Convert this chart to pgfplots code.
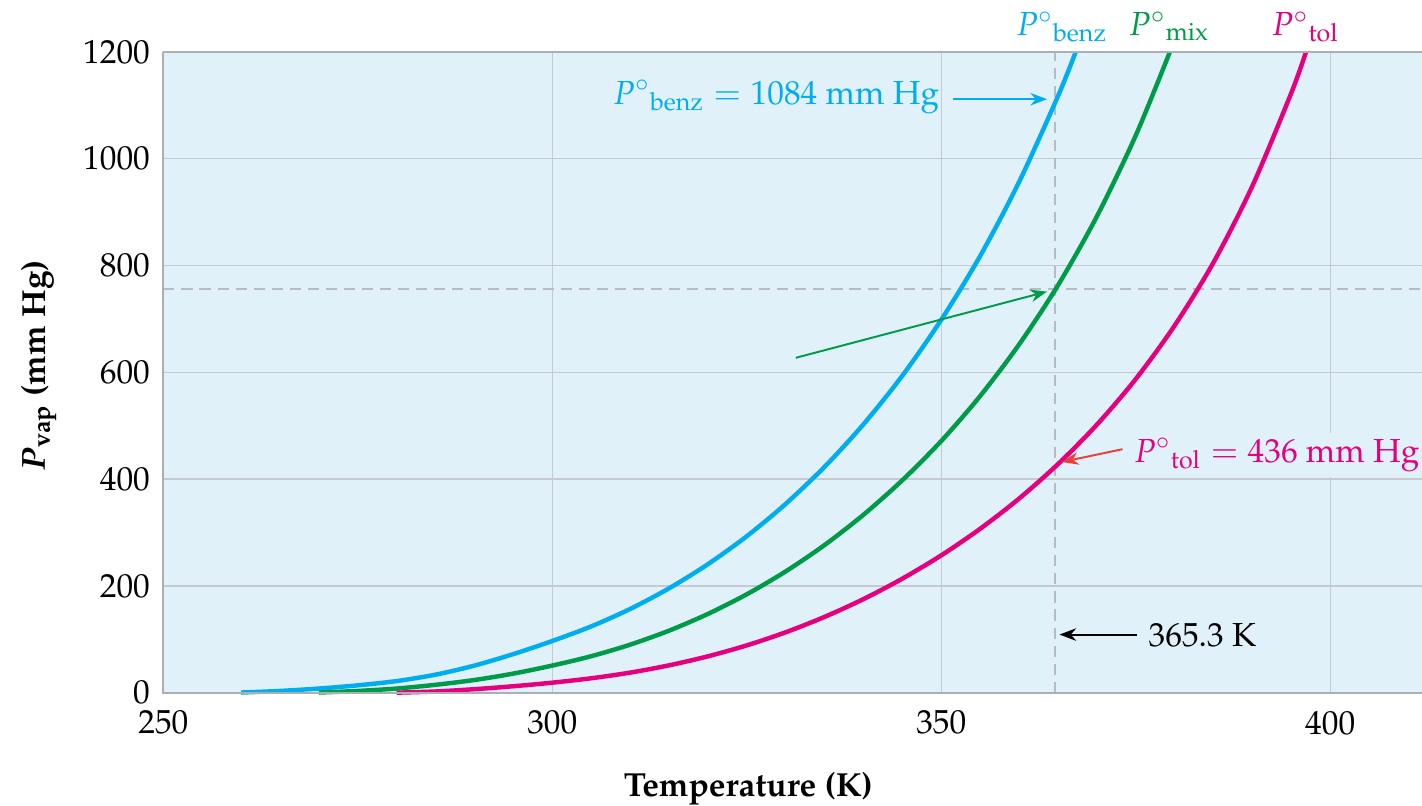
\documentclass[border=0pt]{standalone}
\usepackage[T1]{fontenc}
\usepackage{mathpazo}
\usepackage{pgfplots}
\pgfplotsset{compat=1.18}
\usetikzlibrary{arrows.meta}

\definecolor{bg}{RGB}{225,241,250}
\definecolor{gridc}{RGB}{196,202,208}
\definecolor{dashc}{RGB}{182,188,194}
\definecolor{axc}{RGB}{170,175,180}
\definecolor{benz}{RGB}{0,174,239}
\definecolor{mix}{RGB}{0,155,72}
\definecolor{tol}{RGB}{230,0,126}
\definecolor{arrred}{RGB}{232,65,60}

\begin{document}
\begin{tikzpicture}[font=\fontsize{12}{14.4}\selectfont]
\begin{axis}[
    name=ax,
    scale only axis,
    width=453.1pt, height=230.8pt,
    xmin=250, xmax=411.8, ymin=0, ymax=1200,
    xtick={250,300,350,400},
    ytick={0,200,400,600,800,1000,1200},
    scaled ticks=false,
    /pgf/number format/1000 sep={},
    axis background/.style={fill=bg},
    axis line style={draw=none},
    major tick length=0pt,
    grid=major,
    grid style={gridc, line width=0.5pt},
    xticklabel style={yshift=-3pt},
    yticklabel style={xshift=-1.3pt},
    clip=false,
]
% dashed guide lines
\draw[dashc, line width=0.75pt, dash pattern=on 4pt off 2.5pt]
    (axis cs:364.6,0) -- (axis cs:364.6,1200);
\draw[dashc, line width=0.75pt, dash pattern=on 4pt off 2.5pt]
    (axis cs:250,755) -- (axis cs:411.8,755);

% benzene
\addplot[benz, line width=1.6pt, smooth] coordinates {
    (260,0.5) (265,3.5) (270,8) (275,14) (280,22) (285,34) (290,51) (295,72.5)
    (300,97) (305,124.3) (310,156.9) (315,195.5) (320,240.7) (325,293.1)
    (330,353.6) (335,423) (340,502.6) (345,593.6) (350,698.2) (355,817.6)
    (360,956) (365,1116.6) (367.3,1200)
};
% mixture
\addplot[mix, line width=1.6pt, smooth] coordinates {
    (270,0.5) (275,3.5) (280,8) (285,15) (290,24) (295,36) (300,51)
    (305,68.5) (310,90.1) (315,116.3) (320,147.6) (325,184.4) (330,227.2)
    (335,276.6) (340,333.3) (345,397.9) (350,471.3) (355,555.5) (360,651.9)
    (365,762.6) (370,891.6) (375,1043.1) (379.4,1200)
};
% toluene
\addplot[tol, line width=1.6pt, smooth] coordinates {
    (280,0.3) (285,2.5) (290,6.8) (295,12.3) (300,19) (305,27.2) (310,37.8)
    (315,51.4) (320,68.3) (325,88.8) (330,113.3) (335,142.1) (340,175.4)
    (345,213.7) (350,257.3) (355,307) (360,363.5) (365,428) (370,501.8)
    (375,587.3) (380,687.4) (385,805.6) (390,948.8) (395,1122.9) (396.9,1200)
};

% axis lines
\draw[axc, line width=0.8pt] (rel axis cs:0,1) -- (rel axis cs:0,0) -- (rel axis cs:1,0);
\draw[axc, line width=0.8pt] (rel axis cs:0,1) -- (rel axis cs:1,1);

% curve names above the plot
\node[benz, anchor=base] at (axis cs:365.5,1231) {$P^{\circ}{}_{\mathrm{benz}}$};
\node[mix, anchor=base] at (axis cs:379.3,1231) {$P^{\circ}{}_{\mathrm{mix}}$};
\node[tol, anchor=base] at (axis cs:396.8,1231) {$P^{\circ}{}_{\mathrm{tol}}$};

% annotations
\node[benz, anchor=base east, inner sep=0pt] at (axis cs:349.8,1102)
    {$P^{\circ}{}_{\mathrm{benz}} = \mathrm{1084\ mm\ Hg}$};
\draw[benz, line width=0.7pt, -{Stealth[length=6pt,width=4.5pt]}]
    (axis cs:351.5,1111) -- (axis cs:363.6,1111);

\draw[mix, line width=0.7pt, -{Stealth[length=6pt,width=4.5pt]}]
    (axis cs:331.3,627) -- (axis cs:363.6,751);

\node[tol, anchor=base west, fill=bg, inner sep=2pt] at ([xshift=-2pt]axis cs:374.7,432)
    {$P^{\circ}{}_{\mathrm{tol}} = \mathrm{436\ mm\ Hg}$};
\draw[arrred, line width=0.7pt, -{Stealth[length=6pt,width=4.5pt]}]
    (axis cs:373.3,456) -- (axis cs:365.5,432);

\node[anchor=base west, inner sep=0pt] at (axis cs:376.6,86) {365.3 K};
\draw[black, line width=0.7pt, -{Stealth[length=6pt,width=4.5pt]}]
    (axis cs:375.1,109) -- (axis cs:365.2,109);

% axis titles
\node[anchor=base, inner sep=0pt] at ([yshift=-37.4pt]axis cs:325.2,0)
    {\bfseries Temperature (K)};
\node[rotate=90, anchor=base, inner sep=0pt] at ([xshift=-42.6pt]axis cs:250,613)
    {\bfseries\textit{P}\textsubscript{vap} (mm Hg)};
\end{axis}
\pgfresetboundingbox
\path[use as bounding box] ([xshift=-58.8pt,yshift=-40.4pt]ax.south west)
    rectangle ([yshift=18.6pt]ax.north east);
\end{tikzpicture}
\end{document}
